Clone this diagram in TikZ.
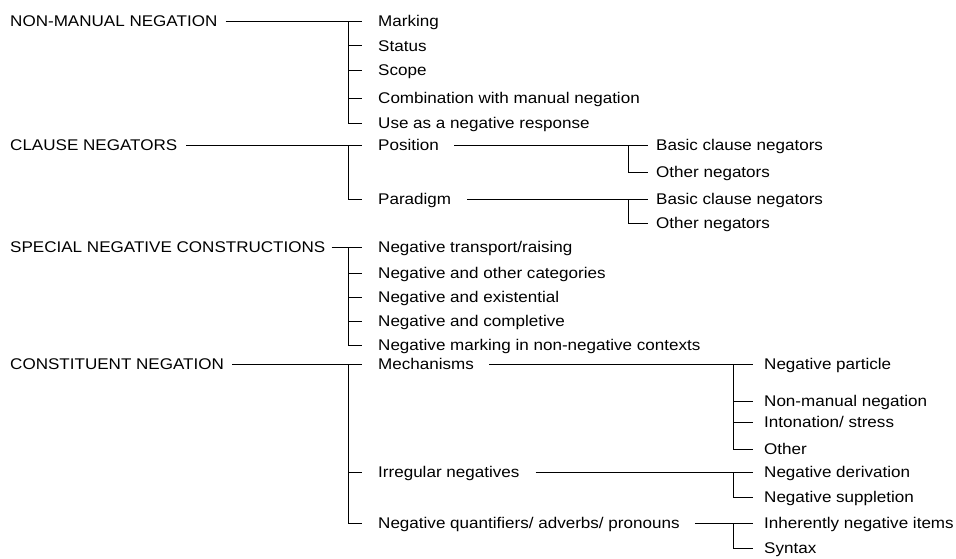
\documentclass[tikz,border=0pt]{standalone}
\usepackage{fontspec}
\setmainfont{Liberation Sans}[FakeStretch=1.1]
\begin{document}
\begin{tikzpicture}[x=1pt,y=-1pt,
  lbl/.style={anchor=west, inner sep=0pt, text height=11pt, text depth=0pt, font=\fontsize{15.5}{18}\selectfont},
  br/.style={line width=0.9pt, black}]
\useasboundingbox (0,0) rectangle (956,558);
% level 0
\node[lbl] (nmn) at (10,21) {NON-MANUAL NEGATION};
\node[lbl] (cln) at (10,145) {CLAUSE NEGATORS};
\node[lbl] (snc) at (10,247) {SPECIAL NEGATIVE CONSTRUCTIONS};
\node[lbl] (con) at (10,364) {CONSTITUENT NEGATION};
% level 1
\node[lbl] (mark) at (378,21) {Marking};
\node[lbl] (stat) at (378,45.5) {Status};
\node[lbl] (scop) at (378,70) {Scope};
\node[lbl] (comb) at (378,98) {Combination with manual negation};
\node[lbl] (use)  at (378,123) {Use as a negative response};
\node[lbl] (pos)  at (378,145) {Position};
\node[lbl] (par)  at (378,199) {Paradigm};
\node[lbl] (ntr)  at (378,247) {Negative transport/raising};
\node[lbl] (noc)  at (378,273) {Negative and other categories};
\node[lbl] (nex)  at (378,297) {Negative and existential};
\node[lbl] (ncp)  at (378,321) {Negative and completive};
\node[lbl] (nmk)  at (378,345) {Negative marking in non-negative contexts};
\node[lbl] (mech) at (378,364) {Mechanisms};
\node[lbl] (irr)  at (378,472) {Irregular negatives};
\node[lbl] (nq)   at (378,523) {Negative quantifiers/ adverbs/ pronouns};
% level 2
\node[lbl] (pb) at (656,145) {Basic clause negators};
\node[lbl] (po) at (656,172) {Other negators};
\node[lbl] (qb) at (656,199) {Basic clause negators};
\node[lbl] (qo) at (656,223) {Other negators};
\node[lbl] (mp) at (764,364) {Negative particle};
\node[lbl] (mn) at (764,401) {Non-manual negation};
\node[lbl] (mi) at (764,422) {Intonation/ stress};
\node[lbl] (mo) at (764,449) {Other};
\node[lbl] (id) at (764,472) {Negative derivation};
\node[lbl] (is) at (764,497) {Negative suppletion};
\node[lbl] (ni) at (764,523) {Inherently negative items};
\node[lbl] (ns) at (764,548) {Syntax};
% connectors level 0 -> 1
\draw[br, shorten <=8pt, shorten >=16pt] (nmn.east) -- (mark.west);
\draw[br, shorten <=9pt, shorten >=16pt] (cln.east) -- (pos.west);
\draw[br, shorten <=6pt, shorten >=16pt] (snc.east) -- (ntr.west);
\draw[br, shorten <=8pt, shorten >=16pt] (con.east) -- (mech.west);
\foreach \f/\l/\m in {mark/use/{stat,scop,comb}, pos/par/{}, ntr/nmk/{noc,nex,ncp}, mech/nq/{irr}}{
  \draw[br, shorten >=16pt] ([xshift=-30pt]\f.west) |- (\l.west);
  \foreach \c in \m {\draw[br, shorten >=16pt] ([xshift=-30pt]\c.west) -- (\c.west);}
}
% connectors level 1 -> 2
\draw[br, shorten <=15pt, shorten >=8pt] (pos.east) -- (pb.west);
\draw[br, shorten <=16pt, shorten >=8pt] (par.east) -- (qb.west);
\draw[br, shorten >=8pt] ([xshift=-28pt]pb.west) |- (po.west);
\draw[br, shorten >=8pt] ([xshift=-28pt]qb.west) |- (qo.west);
\draw[br, shorten <=15pt, shorten >=11pt] (mech.east) -- (mp.west);
\draw[br, shorten <=16pt, shorten >=11pt] (irr.east) -- (id.west);
\draw[br, shorten <=15pt, shorten >=11pt] (nq.east) -- (ni.west);
\draw[br, shorten >=11pt] ([xshift=-31pt]mp.west) |- (mo.west);
\draw[br, shorten >=11pt] ([xshift=-31pt]mn.west) -- (mn.west);
\draw[br, shorten >=11pt] ([xshift=-31pt]mi.west) -- (mi.west);
\draw[br, shorten >=11pt] ([xshift=-31pt]id.west) |- (is.west);
\draw[br, shorten >=11pt] ([xshift=-31pt]ni.west) |- (ns.west);
\end{tikzpicture}
\end{document}
